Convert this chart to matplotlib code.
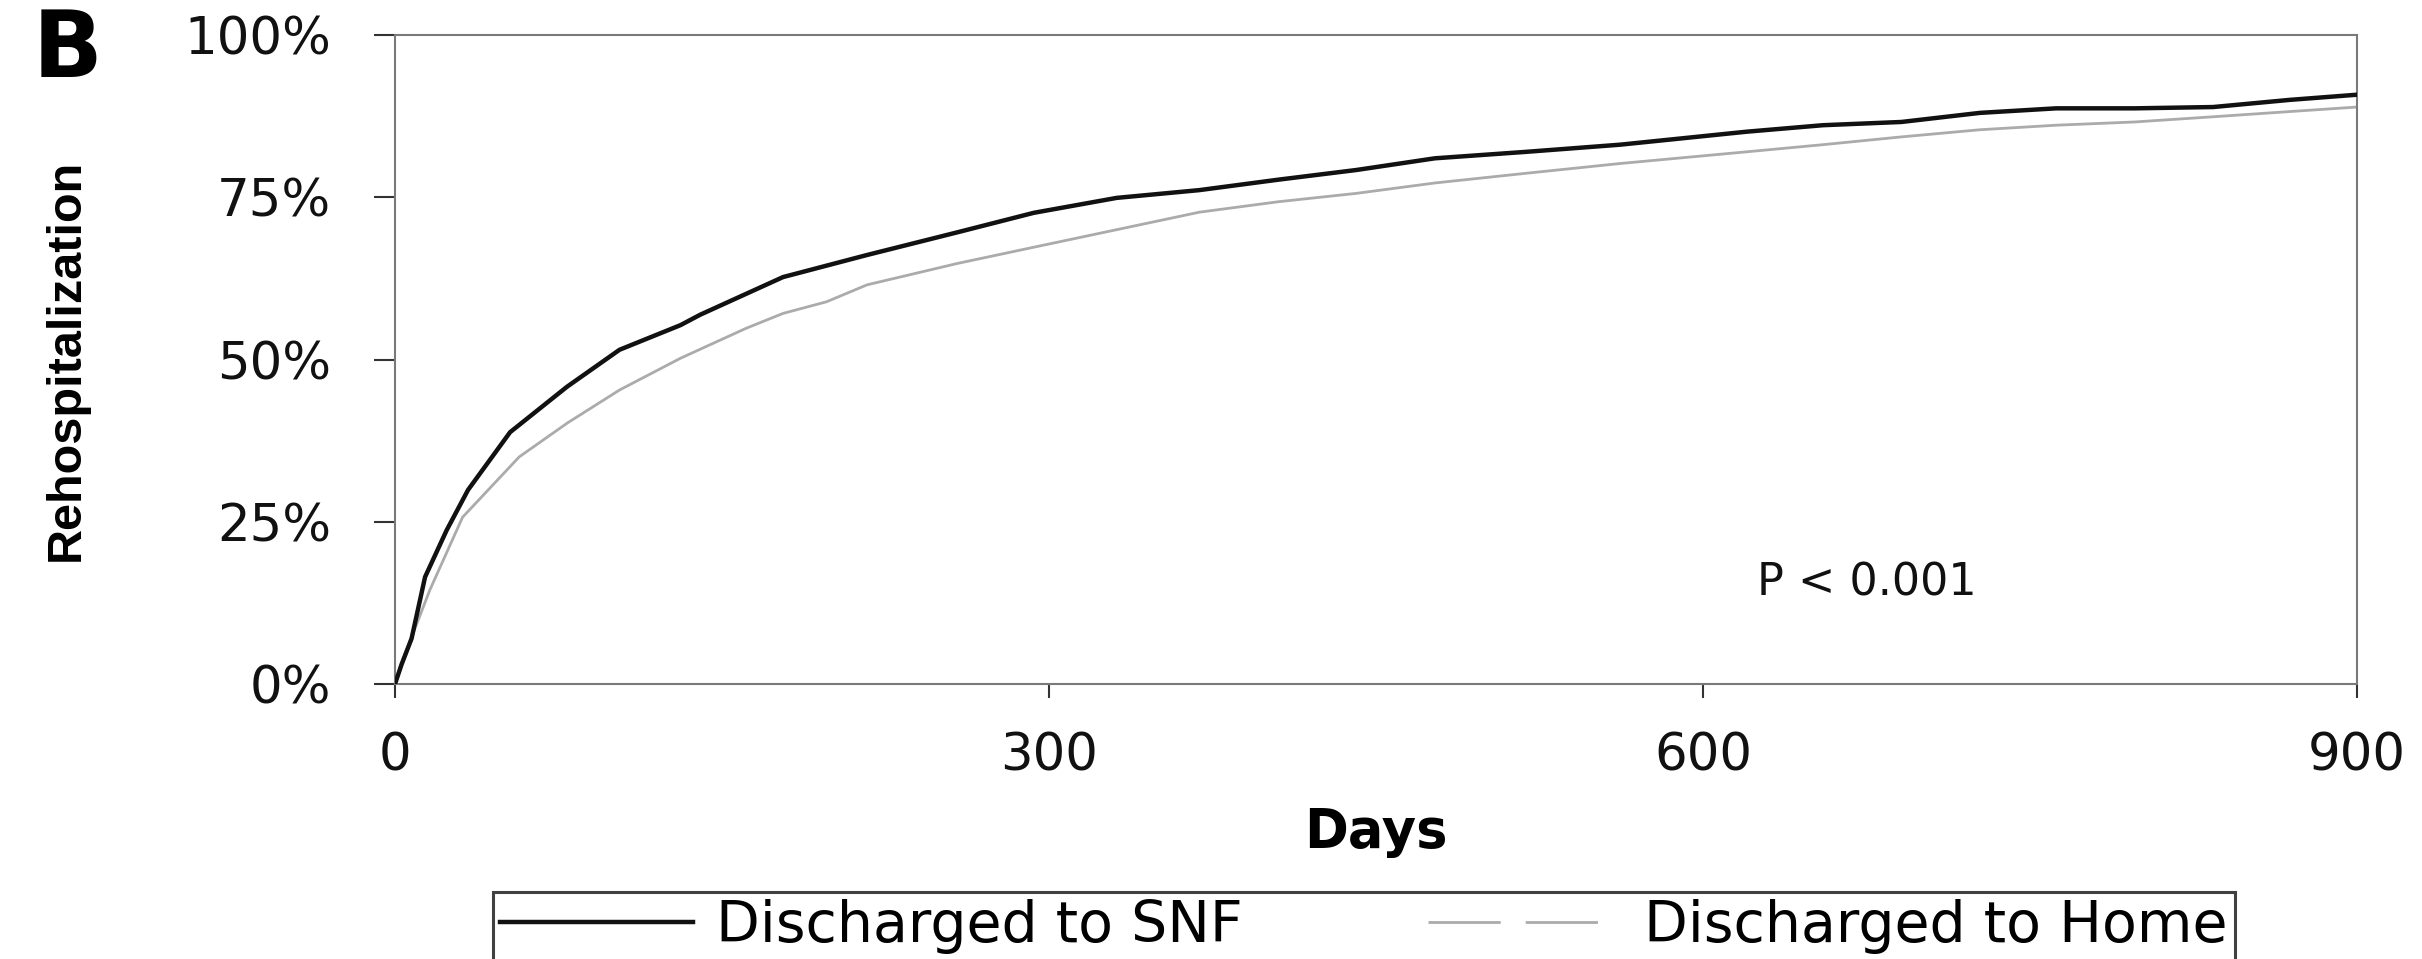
import matplotlib
matplotlib.use("Agg")
import matplotlib.pyplot as plt
from matplotlib import font_manager
from matplotlib.lines import Line2D

# values (days, cumulative % rehospitalized)
snf_days = [0, 3, 7.6, 13.8, 23.7, 33.5, 52.8, 78.9, 103, 131, 140, 178, 216.5, 258, 293, 331,
            369, 405, 441, 477, 519, 562, 620, 655, 691, 727, 762, 798, 834, 869, 900]
snf_pct = [0, 3.0, 7.0, 16.5, 23.7, 29.9, 38.8, 45.8, 51.5, 55.3, 56.9, 62.7, 66.1, 69.6, 72.6, 74.9,
           76.1, 77.7, 79.2, 81.0, 82.0, 83.1, 85.1, 86.1, 86.6, 88.0, 88.7, 88.7, 88.9, 90.0, 90.8]

home_days = [0, 2.3, 16, 31, 57, 79, 103, 131, 161, 178, 198, 216.5, 258, 293, 331,
             369, 405, 441, 477, 519, 562, 620, 655, 691, 727, 762, 798, 834, 869, 900]
home_pct = [0, 2.6, 14.5, 25.7, 35.0, 40.2, 45.3, 50.2, 54.8, 57.1, 58.9, 61.5, 64.8, 67.3, 70.0,
            72.7, 74.3, 75.6, 77.2, 78.7, 80.2, 82.0, 83.1, 84.3, 85.4, 86.1, 86.6, 87.4, 88.2, 88.9]

x_ticks = [0, 300, 600, 900]
y_ticks = [0, 25, 50, 75, 100]
y_ticklabels = ["0%", "25%", "50%", "75%", "100%"]
series_labels = ["Discharged to SNF", "Discharged to Home"]

W, H = 2422, 959
DPI = 100
SNF_COLOR = "#111111"
HOME_COLOR = "#ababab"
FRAME_COLOR = "#7a7a7a"


def has_font(name: str) -> bool:
    try:
        font_manager.findfont(font_manager.FontProperties(family=name), fallback_to_default=False)
        return True
    except ValueError:
        return False


plt.rcParams["font.family"] = ["DejaVu Sans"]

# the y label in the reference is tall and condensed
if has_font("Liberation Sans Narrow"):
    ylab_family, ylab_size = "Liberation Sans Narrow", 41
elif has_font("Liberation Sans"):
    ylab_family, ylab_size = "Liberation Sans", 35
else:
    ylab_family, ylab_size = "DejaVu Sans", 31

fig = plt.figure(figsize=(W / DPI, H / DPI), dpi=DPI)
ax = fig.add_axes([395 / W, 1 - 684 / H, (2357 - 395) / W, (684 - 35) / H])

ax.plot(home_days, home_pct, color=HOME_COLOR, linewidth=2.0, zorder=2)
ax.plot(snf_days, snf_pct, color=SNF_COLOR, linewidth=3.2, zorder=3)

ax.set_xlim(0, 900)
ax.set_ylim(0, 100)
ax.set_xticks(x_ticks)
ax.set_xticklabels([str(v) for v in x_ticks])
ax.set_yticks(y_ticks)
ax.set_yticklabels(y_ticklabels)

for side in ("left", "right", "top", "bottom"):
    ax.spines[side].set_color(FRAME_COLOR)
    ax.spines[side].set_linewidth(1.5)

ax.tick_params(axis="y", direction="out", length=15, width=1.5, color="#333333",
               pad=31, labelsize=37, labelcolor="#111111")
ax.tick_params(axis="x", direction="out", length=10, width=1.5, color="#333333",
               pad=24, labelsize=37, labelcolor="#111111")

ax.text(675, 13.7, "P < 0.001", ha="center", va="baseline", fontsize=32, color="#111111")

# panel letter, axis titles
fig.text(33 / W, 1 - 77 / H, "B", ha="left", va="baseline", fontsize=66, fontweight="bold")
fig.text(1376 / W, 1 - 847 / H, "Days", ha="center", va="baseline", fontsize=38, fontweight="bold")
fig.text(66 / W, 1 - 360 / H, "Rehospitalization", rotation=90, ha="center", va="center",
         fontsize=ylab_size, fontweight="bold", family=[ylab_family, "DejaVu Sans"])

handles = [
    Line2D([], [], color=SNF_COLOR, linewidth=3.2),
    Line2D([], [], color=HOME_COLOR, linewidth=2.0, dashes=(26, 9)),
]
leg = fig.legend(handles, series_labels, loc="upper left", bbox_to_anchor=(493 / W, 1 - 892 / H),
                 ncol=2, fontsize=41, frameon=True, fancybox=False, borderpad=0.12,
                 handlelength=3.4, handletextpad=0.4, columnspacing=3.25, borderaxespad=0)
leg.get_frame().set_edgecolor("#111111")
leg.get_frame().set_linewidth(2.2)

fig.savefig("out.png", dpi=DPI)
